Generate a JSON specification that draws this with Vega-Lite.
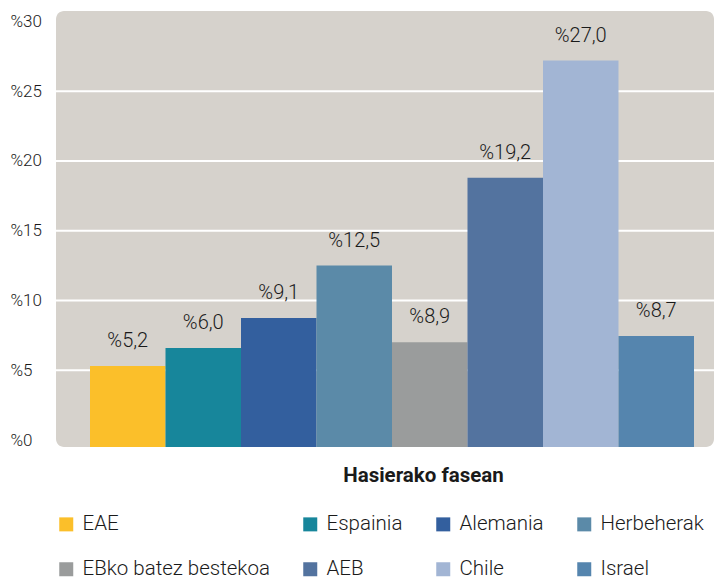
{
  "$schema": "https://vega.github.io/schema/vega-lite/v6.json",
  "width": 658,
  "height": 436,
  "autosize": "none",
  "padding": {"left": 56, "top": 11, "right": 6, "bottom": 134},
  "background": "white",
  "config": {
    "view": {"fill": "#d6d2cc", "stroke": null, "cornerRadius": 8},
    "font": "Roboto"
  },
  "datasets": {
    "barrak": [
      {"herrialdea": "EAE", "balioa": 5.3, "etiketa": "%5,2"},
      {"herrialdea": "Espainia", "balioa": 6.6, "etiketa": "%6,0"},
      {"herrialdea": "Alemania", "balioa": 8.75, "etiketa": "%9,1"},
      {"herrialdea": "Herbeherak", "balioa": 12.5, "etiketa": "%12,5"},
      {"herrialdea": "EBko batez bestekoa", "balioa": 7.0, "etiketa": "%8,9"},
      {"herrialdea": "AEB", "balioa": 18.8, "etiketa": "%19,2"},
      {"herrialdea": "Chile", "balioa": 27.2, "etiketa": "%27,0"},
      {"herrialdea": "Israel", "balioa": 7.45, "etiketa": "%8,7"}
    ],
    "sareta": [
      {"balioa": 5}, {"balioa": 10}, {"balioa": 15}, {"balioa": 20}, {"balioa": 25}
    ]
  },
  "layer": [
    {
      "data": {"name": "sareta"},
      "mark": {"type": "rule", "color": "white", "strokeWidth": 2},
      "encoding": {
        "y": {
          "field": "balioa",
          "type": "quantitative",
          "scale": {"domain": [-0.5, 30.75], "nice": false, "zero": false},
          "axis": {
            "values": [0, 5, 10, 15, 20, 25, 30],
            "labelExpr": "'%' + datum.value",
            "title": null,
            "ticks": false,
            "domain": false,
            "grid": false,
            "labelAlign": "left",
            "labelPadding": 46,
            "labelFontSize": 17,
            "labelFontWeight": 300,
            "labelColor": "#1a1a1a"
          }
        }
      }
    },
    {
      "data": {"name": "barrak"},
      "encoding": {
        "x": {
          "field": "herrialdea",
          "type": "nominal",
          "sort": null,
          "scale": {"range": [34, 638], "paddingInner": 0, "paddingOuter": 0},
          "axis": {
            "labels": false,
            "ticks": false,
            "domain": false,
            "grid": false,
            "title": "Hasierako fasean",
            "titleFont": "Roboto",
            "titleFontWeight": "bold",
            "titleFontSize": 20.5,
            "titleColor": "#1a1a1a",
            "titleX": 367,
            "titleY": 34,
            "titleBaseline": "alphabetic"
          }
        },
        "y": {"field": "balioa", "type": "quantitative"}
      },
      "layer": [
        {
          "mark": {"type": "bar"},
          "encoding": {
            "y2": {"datum": -0.5},
            "color": {
              "field": "herrialdea",
              "type": "nominal",
              "sort": null,
              "scale": {
                "domain": ["EAE", "Espainia", "Alemania", "Herbeherak", "EBko batez bestekoa", "AEB", "Chile", "Israel"],
                "range": ["#fbbf2a", "#17869b", "#335f9e", "#5b8aa8", "#9a9c9c", "#53739f", "#a2b5d4", "#5585ae"]
              },
              "legend": {
                "title": null,
                "orient": "bottom",
                "direction": "horizontal",
                "columns": 4,
                "gridAlign": "each",
                "columnPadding": 30,
                "rowPadding": 24,
                "padding": 0,
                "symbolType": "square",
                "symbolSize": 196,
                "symbolStrokeWidth": 0,
                "labelFontSize": 20.5,
                "labelFontWeight": 300,
                "labelColor": "#1a1a1a",
                "labelOffset": 6,
                "labelLimit": 300,
                "offset": 28
              }
            }
          }
        },
        {
          "mark": {"type": "text", "dy": -19, "baseline": "alphabetic", "fontSize": 20, "fontWeight": 300, "color": "#1a1a1a"},
          "encoding": {
            "text": {"field": "etiketa"}
          }
        }
      ]
    }
  ]
}
